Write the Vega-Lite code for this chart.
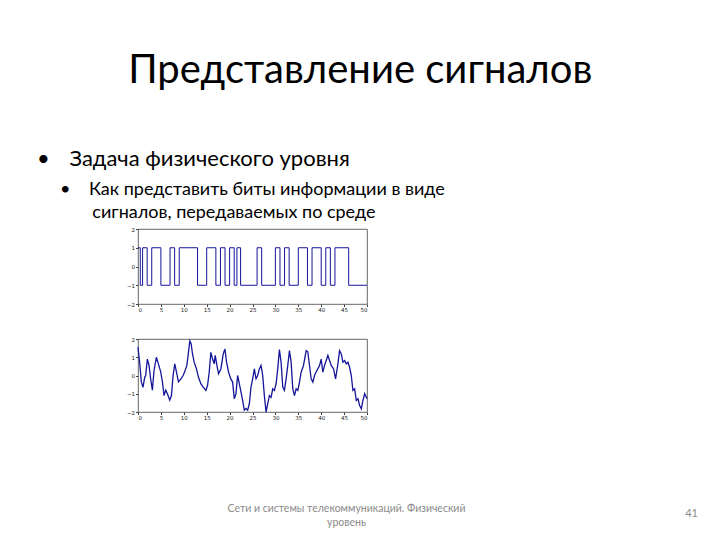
{
  "$schema": "https://vega.github.io/schema/vega-lite/v6.json",
  "background": "white",
  "padding": {"left": 36, "top": 50, "right": 0, "bottom": 0},
  "title": {"text": "Представление сигналов", "fontSize": 40, "font": "Lato", "fontWeight": "normal", "color": "black", "anchor": "middle", "frame": "bounds", "offset": 57, "dx": -7},
  "config": {
    "font": "Lato",
    "view": {"stroke": "#404040", "strokeWidth": 0.8},
    "axis": {"labelFontSize": 5.5, "labelColor": "#222222", "labelFont": "DejaVu Sans", "domain": false, "grid": false, "tickSize": 2.5, "tickColor": "#404040", "labelPadding": 1}
  },
  "spacing": 22,
  "vconcat": [
    {
      "width": 229,
      "height": 75,
      "title": {
        "text": "•\u00a0\u00a0\u00a0\u2009Задача физического уровня",
        "subtitle": ["\u200b\u00a0\u00a0\u00a0\u00a0\u00a0•\u00a0\u00a0\u00a0\u00a0Как представить биты информации в виде", "\u200b\u00a0\u00a0\u00a0\u00a0\u00a0\u00a0\u00a0\u00a0\u00a0\u00a0\u00a0\u00a0сигналов, передаваемых по среде"],
        "anchor": "start", "frame": "group", "dx": -101, "offset": 4,
        "fontSize": 22, "fontWeight": "normal", "color": "black", "font": "Lato",
        "subtitleFontSize": 18, "subtitleColor": "black", "subtitleFont": "Lato", "subtitlePadding": 10, "subtitleLineHeight": 23
      },
      "data": {"values": [
        {"t": 0, "v": 1}, {"t": 0.5, "v": -1}, {"t": 1, "v": 1}, {"t": 2, "v": -1}, {"t": 3, "v": 1}, {"t": 5, "v": -1},
        {"t": 7, "v": 1}, {"t": 8, "v": -1}, {"t": 9, "v": 1}, {"t": 13, "v": -1}, {"t": 15, "v": 1}, {"t": 17, "v": -1},
        {"t": 18, "v": 1}, {"t": 19, "v": -1}, {"t": 20, "v": 1}, {"t": 21, "v": -1}, {"t": 21.6, "v": 1}, {"t": 22.4, "v": -1},
        {"t": 26, "v": 1}, {"t": 27, "v": -1}, {"t": 30, "v": 1}, {"t": 31, "v": -1}, {"t": 32, "v": 1}, {"t": 33, "v": -1},
        {"t": 35, "v": 1}, {"t": 37, "v": -1}, {"t": 38, "v": 1}, {"t": 40, "v": -1}, {"t": 41, "v": 1}, {"t": 42, "v": -1},
        {"t": 43, "v": 1}, {"t": 46, "v": -1}, {"t": 50, "v": -1}
      ]},
      "mark": {"type": "line", "interpolate": "step-after", "color": "#15159a", "strokeWidth": 1},
      "encoding": {
        "x": {"field": "t", "type": "quantitative", "scale": {"domain": [0, 50], "nice": false}, "axis": {"values": [0, 5, 10, 15, 20, 25, 30, 35, 40, 45, 50], "title": null}},
        "y": {"field": "v", "type": "quantitative", "scale": {"domain": [-2, 2], "nice": false}, "axis": {"values": [-2, -1, 0, 1, 2], "title": null}}
      }
    },
    {
      "width": 229,
      "height": 73,
      "data": {"values": [
        {"t": 0, "v": 1.55}, {"t": 0.36, "v": 0.7}, {"t": 0.73, "v": -0.35}, {"t": 1.09, "v": -0.65}, {"t": 1.46, "v": -0.1},
        {"t": 1.68, "v": 0}, {"t": 2.04, "v": 0.9}, {"t": 2.41, "v": 0.55}, {"t": 2.77, "v": -0.2}, {"t": 3.14, "v": -0.8},
        {"t": 3.5, "v": 0.27}, {"t": 4.01, "v": 1.0}, {"t": 4.45, "v": 0.64}, {"t": 4.96, "v": 0.2}, {"t": 5.33, "v": -0.35},
        {"t": 5.69, "v": -1.1}, {"t": 6.06, "v": -0.8}, {"t": 6.42, "v": -1.0}, {"t": 6.93, "v": -1.35}, {"t": 7.3, "v": -1.1},
        {"t": 7.66, "v": 0}, {"t": 8.03, "v": 0.64}, {"t": 8.39, "v": 0.2}, {"t": 8.83, "v": -0.35}, {"t": 9.34, "v": -0.2},
        {"t": 9.85, "v": 0}, {"t": 10.29, "v": 0.27}, {"t": 10.66, "v": 0.55}, {"t": 11.02, "v": 1.27}, {"t": 11.31, "v": 1.9},
        {"t": 11.61, "v": 1.73}, {"t": 11.9, "v": 1.18}, {"t": 12.26, "v": 0.73}, {"t": 12.77, "v": 0.36}, {"t": 13.21, "v": -0.1},
        {"t": 13.72, "v": -0.45}, {"t": 14.23, "v": -0.64}, {"t": 14.82, "v": -0.82}, {"t": 15.18, "v": -0.55}, {"t": 15.55, "v": 0.18},
        {"t": 15.91, "v": 1.27}, {"t": 16.28, "v": 0.9}, {"t": 16.64, "v": 0.64}, {"t": 16.86, "v": 1.1}, {"t": 17.23, "v": 0.55},
        {"t": 17.59, "v": 0.1}, {"t": 18.1, "v": 0.36}, {"t": 18.61, "v": 1.18}, {"t": 18.98, "v": 1.45}, {"t": 19.34, "v": 0.73},
        {"t": 19.78, "v": 0.18}, {"t": 20.29, "v": -0.2}, {"t": 20.66, "v": -0.36}, {"t": 21.02, "v": -1.27}, {"t": 21.39, "v": -1.0},
        {"t": 21.75, "v": 0}, {"t": 22.12, "v": -0.45}, {"t": 22.48, "v": -0.9}, {"t": 22.85, "v": -1.36}, {"t": 23.21, "v": -1.9},
        {"t": 23.58, "v": -1.8}, {"t": 23.94, "v": -1.9}, {"t": 24.31, "v": -1.55}, {"t": 24.67, "v": -0.64}, {"t": 25.04, "v": -0.18},
        {"t": 25.4, "v": 0.36}, {"t": 25.77, "v": -0.18}, {"t": 26.13, "v": 0}, {"t": 26.5, "v": 0.36}, {"t": 26.86, "v": 0.55},
        {"t": 27.23, "v": 0}, {"t": 27.59, "v": -1.1}, {"t": 27.96, "v": -2.0}, {"t": 28.32, "v": -1.55}, {"t": 28.69, "v": -1.1},
        {"t": 29.05, "v": -1.2}, {"t": 29.42, "v": -0.73}, {"t": 29.78, "v": -0.82}, {"t": 30.15, "v": -0.45}, {"t": 30.51, "v": 0.36},
        {"t": 30.88, "v": 1.42}, {"t": 31.24, "v": 0.73}, {"t": 31.61, "v": -0.64}, {"t": 31.97, "v": -0.82}, {"t": 32.34, "v": -0.18},
        {"t": 32.7, "v": 0.55}, {"t": 33.07, "v": 1.36}, {"t": 33.43, "v": 0.73}, {"t": 33.8, "v": -0.73}, {"t": 34.16, "v": -1.1},
        {"t": 34.53, "v": -0.73}, {"t": 34.89, "v": -0.82}, {"t": 35.26, "v": -0.36}, {"t": 35.62, "v": 0.18}, {"t": 36.13, "v": 0.55},
        {"t": 36.72, "v": 1.36}, {"t": 37.08, "v": 1.3}, {"t": 37.45, "v": 0.55}, {"t": 37.81, "v": -0.18}, {"t": 38.18, "v": -0.36},
        {"t": 38.54, "v": 0}, {"t": 39.05, "v": 0.27}, {"t": 39.64, "v": 0.55}, {"t": 40.0, "v": 0.9}, {"t": 40.36, "v": 0.18},
        {"t": 40.73, "v": 0.55}, {"t": 41.09, "v": 0.82}, {"t": 41.46, "v": 1.1}, {"t": 41.82, "v": 0.82}, {"t": 42.19, "v": 0.55},
        {"t": 42.7, "v": 0.36}, {"t": 43.14, "v": -0.18}, {"t": 43.65, "v": 0.64}, {"t": 44.01, "v": 1.36}, {"t": 44.38, "v": 1.18},
        {"t": 44.74, "v": 0.73}, {"t": 45.11, "v": 0.82}, {"t": 45.47, "v": 0.64}, {"t": 45.84, "v": 0.73}, {"t": 46.2, "v": 0.45},
        {"t": 46.57, "v": 0}, {"t": 46.93, "v": -0.82}, {"t": 47.3, "v": -0.73}, {"t": 47.66, "v": -1.36}, {"t": 48.03, "v": -1.27},
        {"t": 48.39, "v": -1.64}, {"t": 48.76, "v": -1.82}, {"t": 49.12, "v": -1.36}, {"t": 49.49, "v": -1.0}, {"t": 50, "v": -1.27}
      ]},
      "mark": {"type": "line", "color": "#15159a", "strokeWidth": 1.3},
      "encoding": {
        "x": {"field": "t", "type": "quantitative", "scale": {"domain": [0, 50], "nice": false},
          "axis": {"values": [0, 5, 10, 15, 20, 25, 30, 35, 40, 45, 50],
            "title": ["Сети и системы телекоммуникаций. Физический", "уровень"],
            "titleX": 208, "titleY": 91, "titleBaseline": "top", "titleAlign": "center", "titleAnchor": null,
            "titleFontSize": 10.5, "titleColor": "#8a8a8a", "titleFontWeight": "normal", "titleFont": "Lato", "titleLineHeight": 14}},
        "y": {"field": "v", "type": "quantitative", "scale": {"domain": [-2, 2], "nice": false},
          "axis": {"values": [-2, -1, 0, 1, 2],
            "title": "41", "titleAngle": 0, "titleX": 553, "titleY": 174, "titleAlign": "center", "titleBaseline": "middle",
            "titleFontSize": 11, "titleColor": "#8a8a8a", "titleFontWeight": "normal", "titleFont": "Lato"}}
      }
    }
  ]
}
